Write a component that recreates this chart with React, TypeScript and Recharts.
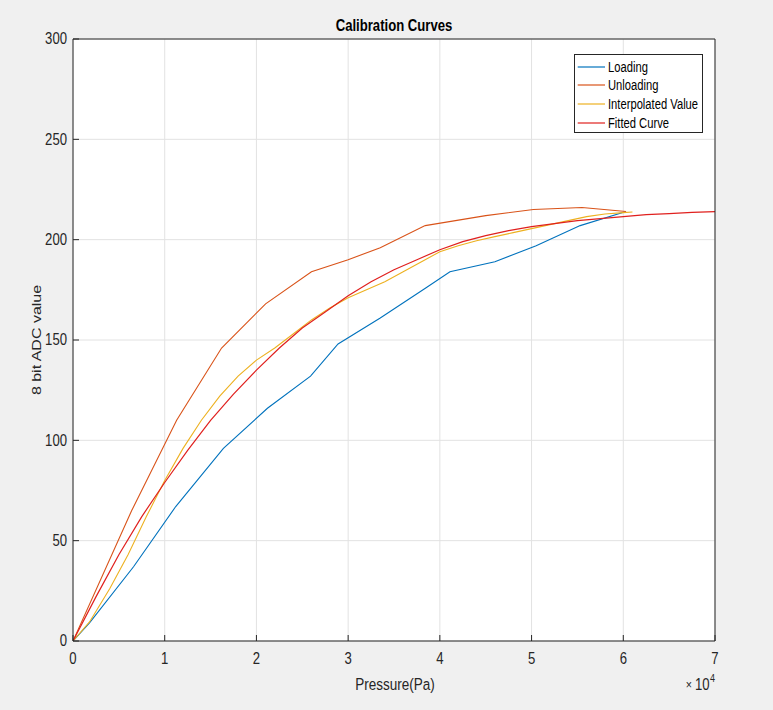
import React from 'react';
import { LineChart, Line, XAxis, YAxis, CartesianGrid, Legend } from 'recharts';

// Pressure (Pa) and 8-bit ADC readings for each curve
const loadingPressure = [0, 1800, 6600, 11200, 16400, 21200, 25900, 28900, 33500, 38500, 41100, 46000, 50500, 55300, 60300];
const loadingValue = [0, 9, 37, 67, 96, 116, 132, 148, 161, 176, 184, 189, 197, 207, 214];

const unloadingPressure = [0, 6400, 11300, 16200, 21000, 26000, 30000, 33500, 38400, 45000, 50200, 55500, 60300];
const unloadingValue = [0, 65, 110, 146, 168, 184, 190, 196, 207, 212, 215, 216, 214];

const interpPressure = [0, 1800, 4000, 6000, 8000, 10000, 12000, 14000, 16000, 18000, 20000, 22000, 24000, 26000, 28000, 30000, 32000, 34000, 36000, 38000, 40000, 42000, 44000, 46000, 48000, 50000, 52000, 54000, 56000, 58000, 60000, 61000];
const interpValue = [0, 9.5, 26, 43, 62, 80, 96, 110, 122, 132, 140, 146, 153, 160, 166, 171, 175, 179, 184, 189, 194, 197, 199.5, 201.5, 203.5, 205.5, 207.5, 209.5, 211.5, 212.8, 213.5, 213.8];

const fittedPressure = [0, 2500, 5000, 7500, 10000, 12500, 15000, 17500, 20000, 22500, 25000, 27500, 30000, 32500, 35000, 37500, 40000, 42500, 45000, 47500, 50000, 52500, 55000, 57500, 60000, 62500, 65000, 67500, 70000];
const fittedValue = [0, 22, 43, 62, 79, 95, 110, 123, 135, 146, 156, 164, 172, 179, 185, 190, 195, 199, 202, 204.5, 206.5, 208, 209.5, 210.5, 211.5, 212.5, 213, 213.6, 214];

const xTicks = [0, 10000, 20000, 30000, 40000, 50000, 60000, 70000];
const yTicks = [0, 50, 100, 150, 200, 250, 300];

const seriesNames = ['Loading', 'Unloading', 'Interpolated Value', 'Fitted Curve'];
const seriesColors = ['#0072BD', '#D95319', '#EDB120', '#E0201E'];

const toRows = (p: number[], v: number[]) => p.map((x, i) => ({ p: x, v: v[i] }));

const loadingData = toRows(loadingPressure, loadingValue);
const unloadingData = toRows(unloadingPressure, unloadingValue);
const interpData = toRows(interpPressure, interpValue);
const fittedData = toRows(fittedPressure, fittedValue);

const FONT = '"Liberation Sans", Arial, Helvetica, sans-serif';
const INK = '#262626';
const SQUEEZE = 0.82;

const XTick = (props: any) => {
  const { x, y, payload } = props;
  return (
    <text
      transform={`translate(${x},${y}) scale(${SQUEEZE},1)`}
      textAnchor="middle"
      dominantBaseline="central"
      fontSize={16}
      fontFamily={FONT}
      fill={INK}
    >
      {payload.value / 10000}
    </text>
  );
};

const YTick = (props: any) => {
  const { x, y, payload } = props;
  return (
    <text
      transform={`translate(${x},${y}) scale(${SQUEEZE},1)`}
      textAnchor="end"
      dominantBaseline="central"
      fontSize={16}
      fontFamily={FONT}
      fill={INK}
    >
      {payload.value}
    </text>
  );
};

const TitleLabel = () => (
  <text
    transform={`translate(394,26) scale(${SQUEEZE},1)`}
    textAnchor="middle"
    dominantBaseline="central"
    fontSize={16}
    fontWeight="bold"
    fontFamily={FONT}
    fill="#000"
  >
    Calibration Curves
  </text>
);

const XLabel = () => (
  <g fontFamily={FONT} fill={INK}>
    <text
      transform={`translate(395,684) scale(0.82,1)`}
      textAnchor="middle"
      dominantBaseline="central"
      fontSize={16.5}
    >
      Pressure(Pa)
    </text>
    <text
      transform={`translate(709.5,685) scale(${SQUEEZE},1)`}
      textAnchor="end"
      dominantBaseline="central"
      fontSize={16}
    >
      <tspan fontSize={13}>× </tspan>10
    </text>
    <text
      transform={`translate(710,678.5) scale(${SQUEEZE},1)`}
      textAnchor="start"
      dominantBaseline="central"
      fontSize={11}
    >
      4
    </text>
  </g>
);

const YLabel = () => (
  <text
    transform={`translate(37,340) rotate(-90) scale(1,0.82)`}
    textAnchor="middle"
    dominantBaseline="central"
    fontSize={16}
    fontFamily={FONT}
    fill={INK}
  >
    8 bit ADC value
  </text>
);

const LegendBox = () => (
  <div
    style={{
      boxSizing: 'border-box',
      width: 129,
      height: 79,
      border: `1px solid ${INK}`,
      background: '#fff',
      paddingTop: 2.4,
      fontFamily: FONT,
    }}
  >
    {seriesNames.map((name, i) => (
      <div key={name} style={{ height: 18.67, display: 'flex', alignItems: 'center' }}>
        <svg width={33} height={10} style={{ flex: 'none' }}>
          <line x1={2.7} x2={30} y1={5} y2={5} stroke={seriesColors[i]} strokeWidth={1.2} />
        </svg>
        <span
          style={{
            display: 'inline-block',
            fontSize: 14,
            color: '#000',
            transform: 'scaleX(0.8)',
            transformOrigin: 'left center',
            whiteSpace: 'nowrap',
            lineHeight: '16px',
          }}
        >
          {name}
        </span>
      </div>
    ))}
  </div>
);

export default function App() {
  return (
    <div
      style={{
        position: 'absolute',
        left: 0,
        top: 0,
        width: 773,
        height: 710,
        background: '#f0f0f0',
        fontFamily: FONT,
      }}
    >
      <LineChart width={773} height={710} margin={{ top: 38, right: 57, bottom: 0, left: 0 }}>
        <CartesianGrid
          xAxisId="bottom"
          yAxisId="left"
          fill="#ffffff"
          stroke="#e2e2e2"
          strokeWidth={1}
        />
        <XAxis
          xAxisId="bottom"
          dataKey="p"
          type="number"
          domain={[0, 70000]}
          ticks={xTicks}
          allowDataOverflow
          height={69}
          tickSize={-6}
          tickMargin={24}
          tick={<XTick />}
          axisLine={{ stroke: INK }}
          tickLine={{ stroke: INK }}
          label={<XLabel />}
        />
        <XAxis
          xAxisId="top"
          orientation="top"
          dataKey="p"
          type="number"
          domain={[0, 70000]}
          ticks={xTicks}
          allowDataOverflow
          height={1}
          tickSize={-6}
          tick={false}
          axisLine={{ stroke: INK }}
          tickLine={{ stroke: INK }}
          label={<TitleLabel />}
        />
        <YAxis
          yAxisId="left"
          type="number"
          domain={[0, 300]}
          ticks={yTicks}
          allowDataOverflow
          width={73}
          tickSize={-6}
          tickMargin={12}
          tick={<YTick />}
          axisLine={{ stroke: INK }}
          tickLine={{ stroke: INK }}
          label={<YLabel />}
        />
        <YAxis
          yAxisId="right"
          orientation="right"
          type="number"
          domain={[0, 300]}
          ticks={yTicks}
          allowDataOverflow
          width={1}
          tickSize={-6}
          tick={false}
          axisLine={{ stroke: INK }}
          tickLine={{ stroke: INK }}
        />
        <Legend
          layout="vertical"
          align="center"
          verticalAlign="middle"
          content={<LegendBox />}
          wrapperStyle={{ position: 'absolute', top: 54, left: 574, width: 129, height: 79 }}
        />
        <Line
          xAxisId="bottom"
          yAxisId="left"
          data={loadingData}
          dataKey="v"
          name={seriesNames[0]}
          type="linear"
          stroke={seriesColors[0]}
          strokeWidth={1.1}
          dot={false}
          activeDot={false}
          isAnimationActive={false}
        />
        <Line
          xAxisId="bottom"
          yAxisId="left"
          data={unloadingData}
          dataKey="v"
          name={seriesNames[1]}
          type="linear"
          stroke={seriesColors[1]}
          strokeWidth={1.1}
          dot={false}
          activeDot={false}
          isAnimationActive={false}
        />
        <Line
          xAxisId="bottom"
          yAxisId="left"
          data={interpData}
          dataKey="v"
          name={seriesNames[2]}
          type="linear"
          stroke={seriesColors[2]}
          strokeWidth={1.1}
          dot={false}
          activeDot={false}
          isAnimationActive={false}
        />
        <Line
          xAxisId="bottom"
          yAxisId="left"
          data={fittedData}
          dataKey="v"
          name={seriesNames[3]}
          type="linear"
          stroke={seriesColors[3]}
          strokeWidth={1.2}
          dot={false}
          activeDot={false}
          isAnimationActive={false}
        />
      </LineChart>
    </div>
  );
}
